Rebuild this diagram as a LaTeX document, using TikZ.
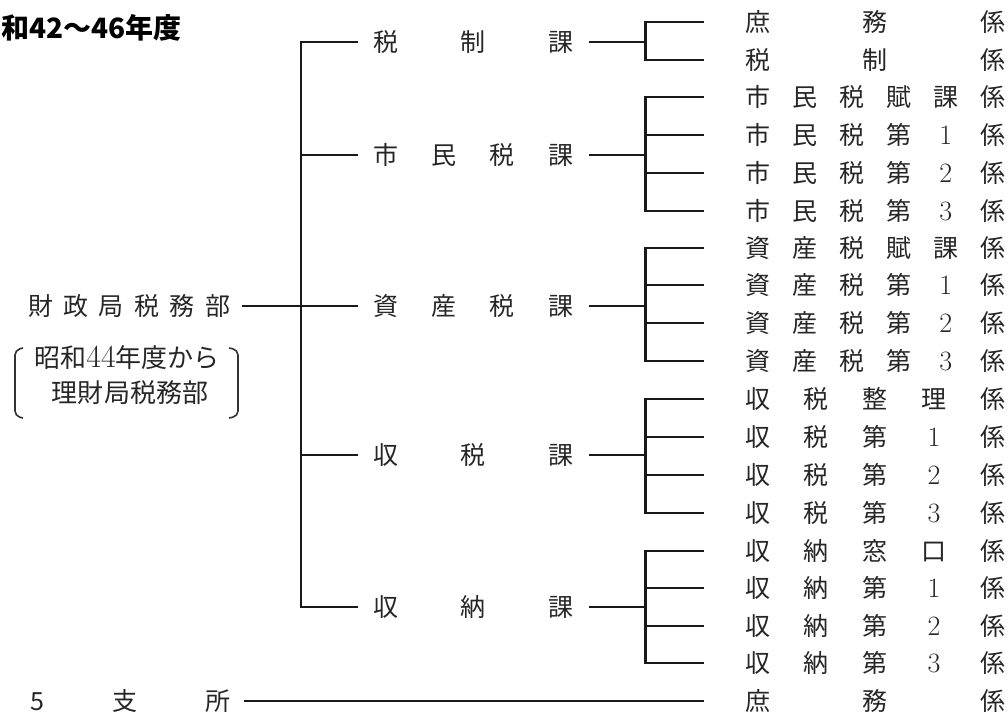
\documentclass[tikz,border=0pt]{standalone}
\usepackage{fontspec}
\newfontfamily\jp{Noto Sans CJK JP}
\newcommand\mydigit[1]{\makebox[25bp]{\rmfamily\fontsize{28bp}{30bp}\selectfont #1}}
\tikzset{
  ln/.style={line width=2.3bp, draw=black!90, line cap=rect},
  txt/.style={inner sep=0pt, anchor=west, text=black!85, font=\jp\fontsize{25bp}{30bp}\selectfont},
  notetxt/.style={inner sep=0pt, text=black!85, font=\jp\fontsize{26bp}{30bp}\selectfont},
  titletxt/.style={inner sep=0pt, anchor=east, text=black, font=\jp\bfseries\fontsize{28bp}{30bp}\selectfont},
  brk/.style={line width=1.6bp, draw=black!80, rounded corners=5bp},
}
\begin{document}
\begin{tikzpicture}[x=1bp,y=-1bp]
\useasboundingbox (0,0) rectangle (1008,716);

% title
\node[titletxt] (title) at (182,28) {和42～46年度};

% left
\node[txt] (top) at (28,306) {\hbox to 202bp{財\hfill 政\hfill 局\hfill 税\hfill 務\hfill 部}};
\node[notetxt] (n1) at (127,358) {昭和{\rmfamily\fontsize{32bp}{30bp}\selectfont 44}年度から};
\node[notetxt] (n2) at (130,393) {理財局税務部};
\draw[brk] (23,348) -- (15,350) -- (15,416) -- (23,418);
\draw[brk] (229,348) -- (238,350) -- (238,416) -- (229,418);
\node[txt] (branch) at (30,701) {\hbox to 200bp{5\hfill 支\hfill 所}};

% middle
\node[txt] (m1) at (373,42)  {\hbox to 200bp{税\hfill 制\hfill 課}};
\node[txt] (m2) at (373,155) {\hbox to 200bp{市\hfill 民\hfill 税\hfill 課}};
\node[txt] (m3) at (373,306) {\hbox to 200bp{資\hfill 産\hfill 税\hfill 課}};
\node[txt] (m4) at (373,455) {\hbox to 200bp{収\hfill 税\hfill 課}};
\node[txt] (m5) at (373,607) {\hbox to 200bp{収\hfill 納\hfill 課}};

% right rows
\node[txt] (r1)  at (745,22)  {\hbox to 260bp{庶\hfill 務\hfill 係}};
\node[txt] (r2)  at (745,60)  {\hbox to 260bp{税\hfill 制\hfill 係}};
\node[txt] (r3)  at (745,97)  {\hbox to 260bp{市\hfill 民\hfill 税\hfill 賦\hfill 課\hfill 係}};
\node[txt] (r4)  at (745,135) {\hbox to 260bp{市\hfill 民\hfill 税\hfill 第\hfill \mydigit{1}\hfill 係}};
\node[txt] (r5)  at (745,173) {\hbox to 260bp{市\hfill 民\hfill 税\hfill 第\hfill \mydigit{2}\hfill 係}};
\node[txt] (r6)  at (745,211) {\hbox to 260bp{市\hfill 民\hfill 税\hfill 第\hfill \mydigit{3}\hfill 係}};
\node[txt] (r7)  at (745,248) {\hbox to 260bp{資\hfill 産\hfill 税\hfill 賦\hfill 課\hfill 係}};
\node[txt] (r8)  at (745,285) {\hbox to 260bp{資\hfill 産\hfill 税\hfill 第\hfill \mydigit{1}\hfill 係}};
\node[txt] (r9)  at (745,323) {\hbox to 260bp{資\hfill 産\hfill 税\hfill 第\hfill \mydigit{2}\hfill 係}};
\node[txt] (r10) at (745,361) {\hbox to 260bp{資\hfill 産\hfill 税\hfill 第\hfill \mydigit{3}\hfill 係}};
\node[txt] (r11) at (745,399) {\hbox to 260bp{収\hfill 税\hfill 整\hfill 理\hfill 係}};
\node[txt] (r12) at (745,437) {\hbox to 260bp{収\hfill 税\hfill 第\hfill \mydigit{1}\hfill 係}};
\node[txt] (r13) at (745,475) {\hbox to 260bp{収\hfill 税\hfill 第\hfill \mydigit{2}\hfill 係}};
\node[txt] (r14) at (745,513) {\hbox to 260bp{収\hfill 税\hfill 第\hfill \mydigit{3}\hfill 係}};
\node[txt] (r15) at (745,551) {\hbox to 260bp{収\hfill 納\hfill 窓\hfill 口\hfill 係}};
\node[txt] (r16) at (745,588) {\hbox to 260bp{収\hfill 納\hfill 第\hfill \mydigit{1}\hfill 係}};
\node[txt] (r17) at (745,626) {\hbox to 260bp{収\hfill 納\hfill 第\hfill \mydigit{2}\hfill 係}};
\node[txt] (r18) at (745,663) {\hbox to 260bp{収\hfill 納\hfill 第\hfill \mydigit{3}\hfill 係}};
\node[txt] (r19) at (745,701) {\hbox to 260bp{庶\hfill 務\hfill 係}};

% trunk and left connectors
\draw[ln] ([xshift=13bp]top.east) -- ([xshift=-16bp]m3.west);
\draw[ln] ([xshift=-72bp]m1.west) -- ([xshift=-72bp]m5.west);
\foreach \m in {m1,m2,m4,m5}
  \draw[ln] ([xshift=-72bp]\m.west) -- ([xshift=-16bp]\m.west);
\draw[ln] ([xshift=15bp]branch.east) -- ([xshift=-42bp]r19.west);

% right junctions
\draw[ln] ([xshift=17bp]m1.east) -- ++(55bp,0) coordinate (j1);
\draw[ln] (j1 |- r1.west) -- (j1 |- r2.west);
\foreach \r in {r1,r2} \draw[ln] (j1 |- \r.west) -- ([xshift=-42bp]\r.west);

\draw[ln] ([xshift=17bp]m2.east) -- ++(55bp,0) coordinate (j2);
\draw[ln] (j2 |- r3.west) -- (j2 |- r6.west);
\foreach \r in {r3,r4,r5,r6} \draw[ln] (j2 |- \r.west) -- ([xshift=-42bp]\r.west);

\draw[ln] ([xshift=17bp]m3.east) -- ++(55bp,0) coordinate (j3);
\draw[ln] (j3 |- r7.west) -- (j3 |- r10.west);
\foreach \r in {r7,r8,r9,r10} \draw[ln] (j3 |- \r.west) -- ([xshift=-42bp]\r.west);

\draw[ln] ([xshift=17bp]m4.east) -- ++(55bp,0) coordinate (j4);
\draw[ln] (j4 |- r11.west) -- (j4 |- r14.west);
\foreach \r in {r11,r12,r13,r14} \draw[ln] (j4 |- \r.west) -- ([xshift=-42bp]\r.west);

\draw[ln] ([xshift=17bp]m5.east) -- ++(55bp,0) coordinate (j5);
\draw[ln] (j5 |- r15.west) -- (j5 |- r18.west);
\foreach \r in {r15,r16,r17,r18} \draw[ln] (j5 |- \r.west) -- ([xshift=-42bp]\r.west);
\end{tikzpicture}
\end{document}
